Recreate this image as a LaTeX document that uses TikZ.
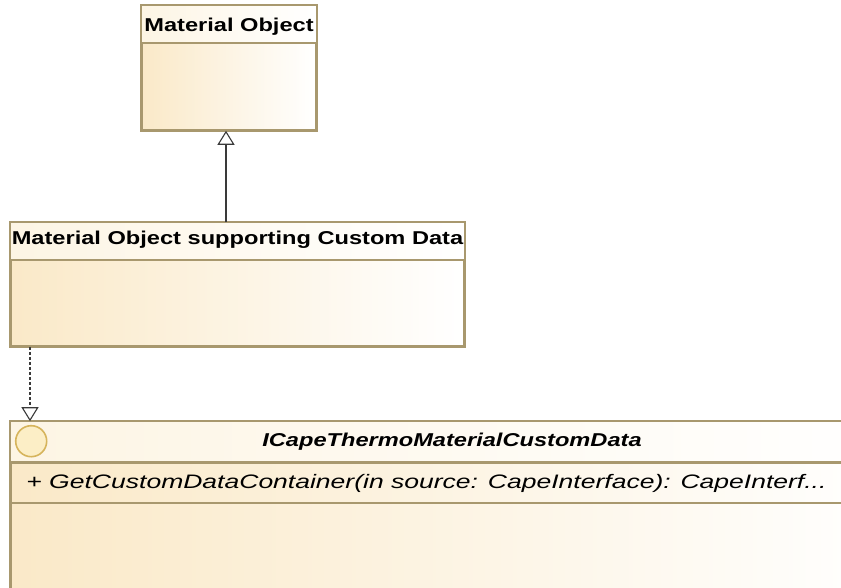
\documentclass[tikz,border=0pt]{standalone}
\usepackage{fontspec}
\setmainfont{Liberation Sans}
\usepackage{graphicx}
\usetikzlibrary{arrows.meta,calc,shadows}

\definecolor{umlborder}{HTML}{A8986E}
\definecolor{umlfill}{HTML}{FAE9C8}
\definecolor{umlhead}{HTML}{FDF5E4}
\definecolor{umlline}{HTML}{3A3A3A}
\definecolor{ifacering}{HTML}{D6B45C}
\definecolor{ifacefill}{HTML}{FCEEC6}

% UML text is set slightly wider than the plain font
\newcommand\widetext[1]{\scalebox{1.27}[1]{#1}}
\newcommand\wideop[1]{\scalebox{1.36}[1]{#1}}

\tikzset{
  classbox/.style={draw=umlborder, line width=1.6pt, left color=umlfill, right color=white,
    inner sep=0pt, drop shadow={shadow xshift=2pt, shadow yshift=-2pt, opacity=.15}},
  headfill/.style={left color=umlhead, right color=white},
  border/.style={draw=umlborder, line width=1.6pt},
  sepline/.style={draw=umlborder, line width=1.6pt},
  boldsep/.style={draw=umlborder, line width=2.6pt},
  classtitle/.style={font=\fontsize{18.6}{22}\selectfont\bfseries, inner sep=0pt},
  ifacetitle/.style={font=\fontsize{18.6}{22}\selectfont\bfseries\itshape, inner sep=0pt},
  optext/.style={font=\fontsize{19.5}{23}\selectfont\itshape, inner sep=0pt, anchor=west},
  generalization/.style={draw=umlline, line width=1.3pt, -{Triangle[width=17pt, length=14pt, fill=white, line width=1.1pt]}},
  realization/.style={generalization, dash pattern=on 3pt off 2pt}
}

\begin{document}
\begin{tikzpicture}[x=1pt, y=-1pt]
  \useasboundingbox (0,0) rectangle (841,588);
  \clip (0,0) rectangle (841,588);
  \fill[white] (0,0) rectangle (841,588);

  % Material Object
  \node[classbox, minimum width=174pt, minimum height=124pt] (mo) at (229,68) {};
  \fill[headfill] ($(mo.north west)+(0.8,0.8)$) rectangle ($(mo.north east)+(-0.8,38)$);
  \draw[border] (mo.north west) rectangle (mo.south east);
  \draw[sepline] ($(mo.north west)+(0,38)$) -- ($(mo.north east)+(0,38)$);
  \node[classtitle] (motitle) at ($(mo.north)+(0,21)$) {\widetext{Material Object}};

  % Material Object supporting Custom Data
  \node[classbox, minimum width=453pt, minimum height=123pt] (mosc) at (237.5,284.5) {};
  \fill[headfill] ($(mosc.north west)+(0.8,0.8)$) rectangle ($(mosc.north east)+(-0.8,38)$);
  \draw[border] (mosc.north west) rectangle (mosc.south east);
  \draw[sepline] ($(mosc.north west)+(0,38)$) -- ($(mosc.north east)+(0,38)$);
  \node[classtitle] (mosctitle) at ($(mosc.north)+(0,18)$) {\widetext{Material Object supporting Custom Data}};

  % ICapeThermoMaterialCustomData interface
  \node[classbox, minimum width=882pt, minimum height=190pt] (icape) at (452,517) {};
  \fill[headfill] ($(icape.north west)+(0.8,0.8)$) rectangle ($(icape.north east)+(-0.8,41)$);
  \draw[border] (icape.north west) rectangle (icape.south east);
  \draw[boldsep] ($(icape.north west)+(0,41)$) -- ($(icape.north east)+(0,41)$);
  \draw[sepline] ($(icape.north west)+(0,82)$) -- ($(icape.north east)+(0,82)$);
  \node[circle, draw=ifacering, fill=ifacefill, line width=1.6pt, minimum size=31pt, inner sep=0pt]
    (icon) at ($(icape.north west)+(21,20)$) {};
  \node[ifacetitle] (icapetitle) at ($(icape.north)+(0,20)$) {\widetext{ICapeThermoMaterialCustomData}};
  \node[optext] (op) at ($(icape.north west)+(16,62)$)
    {\wideop{+ GetCustomDataContainer(in source: CapeInterface): CapeInterf...}};

  % connectors
  \coordinate (gx) at (226,0);
  \coordinate (rx) at (30,0);
  \draw[generalization] (gx |- mosc.north) -- (gx |- mo.south);
  \draw[realization] (rx |- mosc.south) -- (rx |- icape.north);
\end{tikzpicture}
\end{document}
